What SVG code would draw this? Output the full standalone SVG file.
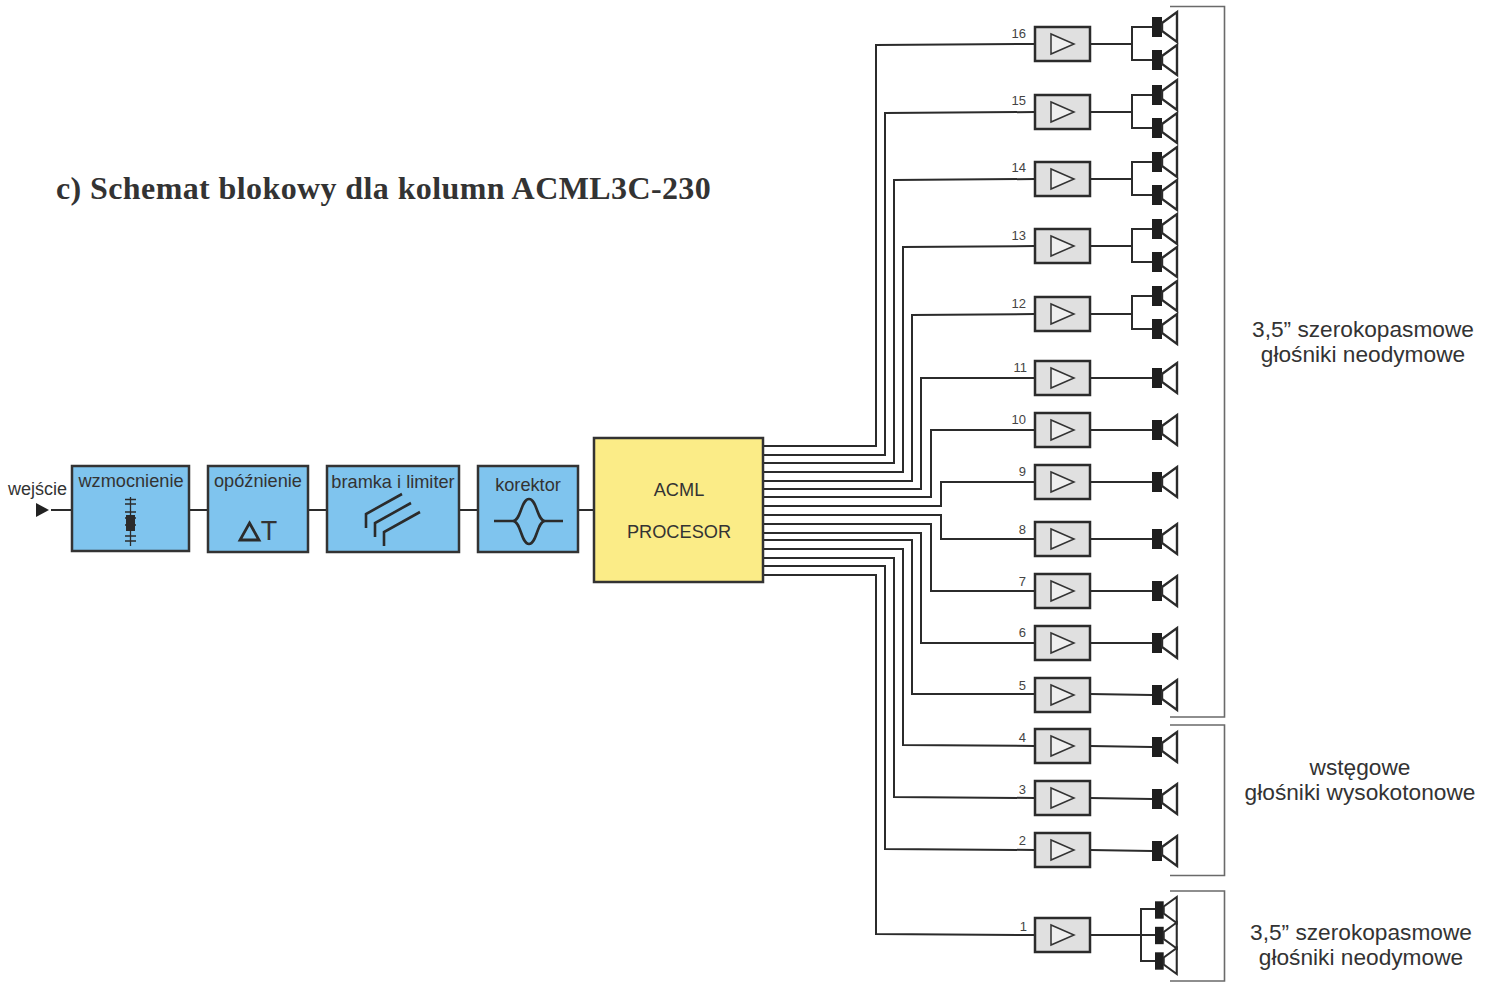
<svg xmlns="http://www.w3.org/2000/svg" width="1492" height="982" viewBox="0 0 1492 982">
<style>
text{font-family:"Liberation Sans",Arial,sans-serif;fill:#333}
.t{font-size:18.2px;text-anchor:middle}
.n{font-size:13px;text-anchor:end;fill:#444}
.r{font-size:22.7px;text-anchor:middle}
.b{fill:#7fc4ee;stroke:#333;stroke-width:2.5}
.w{fill:none;stroke:#2b2b2b;stroke-width:2;stroke-linejoin:miter}
.i{fill:none;stroke:#2b2b2b;stroke-width:2.6}
.a{fill:#e0e0e0;stroke:#2b2b2b;stroke-width:2.5}
.g{fill:none;stroke:#6a6a6a;stroke-width:1.6}
</style>
<defs>
<g id="amp"><rect class="a" x="0" y="-17" width="55" height="34"/><polygon points="16,-10 16,10 39,0" fill="#efefef" stroke="#333" stroke-width="1.500"/></g>
<g id="spk"><rect x="0" y="-10" width="10" height="20" fill="#1e1e1e"/><polygon points="10,-4 25,-15 25,15 10,4" fill="none" stroke="#2b2b2b" stroke-width="2.400"/></g>
</defs>
<rect width="1492" height="982" fill="#fff"/>
<text x="56" y="199" style="font-family:'Liberation Serif',serif;font-weight:bold;font-size:32px;letter-spacing:.4px">c) Schemat blokowy dla kolumn ACML3C-230</text>
<g id="connectors">
<path class="w" d="M51 510H72M189 510H208M308 510H327M459 510H478M578 510H594"/>
<path class="w" d="M763 446H876V45L1035 44"/>
<path class="w" d="M763 455H885V113L1035 112"/>
<path class="w" d="M763 463H894V180L1035 179"/>
<path class="w" d="M763 472H903V247L1035 246"/>
<path class="w" d="M763 481H912V315L1035 314"/>
<path class="w" d="M763 489H921V378H1035"/>
<path class="w" d="M763 497H931V430H1035"/>
<path class="w" d="M763 506H941V482H1035"/>
<path class="w" d="M763 515H941V539H1035"/>
<path class="w" d="M763 524H931V591H1035"/>
<path class="w" d="M763 533H921V643H1035"/>
<path class="w" d="M763 540H912V694H1035"/>
<path class="w" d="M763 549H903V745L1035 746"/>
<path class="w" d="M763 558H894V797L1035 798"/>
<path class="w" d="M763 566H885V849L1035 850"/>
<path class="w" d="M763 575H876V934L1035 935"/>
<path class="w" d="M1090 44H1132M1152 27H1132V60H1152"/>
<path class="w" d="M1090 112H1132M1152 95H1132V128H1152"/>
<path class="w" d="M1090 179H1132M1152 162H1132V195H1152"/>
<path class="w" d="M1090 246H1132M1152 229H1132V262H1152"/>
<path class="w" d="M1090 314H1132M1152 296H1132V329H1152"/>
<path class="w" d="M1090 378H1152M1090 430H1152M1090 482H1152M1090 539H1152M1090 591H1152M1090 643H1152M1090 694L1152 695M1090 746L1152 747M1090 798L1152 799M1090 850L1152 851"/>
<path class="w" d="M1090 935H1155M1155 909H1141V961H1155"/>
</g>
<g id="input"><polygon points="36,503 36,517 49,510" fill="#222"/><text class="t" x="37.500" y="495" style="font-size:18px">wejście</text></g>
<g id="wzmocnienie"><rect class="b" x="72" y="466" width="117" height="85"/><text class="t" x="131" y="487">wzmocnienie</text>
<path d="M130.500 497V546M125 499.500H136M125 504H136M125 512H136M125 518H136M125 525H136M125 536H136M125 541H136" fill="none" stroke="#2b2b2b" stroke-width="1.300"/><rect x="126" y="515" width="9" height="16" fill="#2b2b2b"/></g>
<g id="opoznienie"><rect class="b" x="208" y="466" width="100" height="86"/><text class="t" x="258" y="487">opóźnienie</text>
<polygon points="249.500,523 259,540 240,540" fill="none" stroke="#2b2b2b" stroke-width="2.800"/><text x="269" y="540" style="font-size:27px;text-anchor:middle">T</text></g>
<g id="bramka"><rect class="b" x="327" y="466" width="132" height="86"/><text class="t" x="393" y="488">bramka i limiter</text>
<path class="i" d="M366 528V514L402 494M375 537V523L411 503M384 546V532L420 512"/></g>
<g id="korektor"><rect class="b" x="478" y="466" width="100" height="86"/><text class="t" x="528" y="491">korektor</text>
<path class="i" d="M494 521H513C521 521 521 499 529 499C537 499 537 521 545 521H563M513 521C521 521 521 544 529 544C537 544 537 521 545 521"/></g>
<g id="procesor"><rect x="594" y="438" width="169" height="144" fill="#fbec87" stroke="#333" stroke-width="2.500"/><text class="t" x="679" y="496">ACML</text><text class="t" x="679" y="538">PROCESOR</text></g>
<g id="amp-16"><use href="#amp" x="1035" y="44"/><text class="n" x="1026" y="38">16</text></g>
<g id="amp-15"><use href="#amp" x="1035" y="112"/><text class="n" x="1026" y="105">15</text></g>
<g id="amp-14"><use href="#amp" x="1035" y="179"/><text class="n" x="1026" y="172">14</text></g>
<g id="amp-13"><use href="#amp" x="1035" y="246"/><text class="n" x="1026" y="240">13</text></g>
<g id="amp-12"><use href="#amp" x="1035" y="314"/><text class="n" x="1026" y="308">12</text></g>
<g id="amp-11"><use href="#amp" x="1035" y="378"/><text class="n" x="1027" y="372">11</text></g>
<g id="amp-10"><use href="#amp" x="1035" y="430"/><text class="n" x="1026" y="424">10</text></g>
<g id="amp-9"><use href="#amp" x="1035" y="482"/><text class="n" x="1026" y="476">9</text></g>
<g id="amp-8"><use href="#amp" x="1035" y="539"/><text class="n" x="1026" y="534">8</text></g>
<g id="amp-7"><use href="#amp" x="1035" y="591"/><text class="n" x="1026" y="586">7</text></g>
<g id="amp-6"><use href="#amp" x="1035" y="643"/><text class="n" x="1026" y="637">6</text></g>
<g id="amp-5"><use href="#amp" x="1035" y="695"/><text class="n" x="1026" y="690">5</text></g>
<g id="amp-4"><use href="#amp" x="1035" y="746"/><text class="n" x="1026" y="742">4</text></g>
<g id="amp-3"><use href="#amp" x="1035" y="798"/><text class="n" x="1026" y="794">3</text></g>
<g id="amp-2"><use href="#amp" x="1035" y="850"/><text class="n" x="1026" y="845">2</text></g>
<g id="amp-1"><use href="#amp" x="1035" y="935"/><text class="n" x="1027" y="931">1</text></g>
<g id="speakers">
<use href="#spk" x="1152" y="27"/><use href="#spk" x="1152" y="60"/><use href="#spk" x="1152" y="95"/><use href="#spk" x="1152" y="128"/><use href="#spk" x="1152" y="162"/><use href="#spk" x="1152" y="195"/><use href="#spk" x="1152" y="229"/><use href="#spk" x="1152" y="262"/><use href="#spk" x="1152" y="296"/><use href="#spk" x="1152" y="329"/>
<use href="#spk" x="1152" y="378"/><use href="#spk" x="1152" y="430"/><use href="#spk" x="1152" y="482"/><use href="#spk" x="1152" y="539"/><use href="#spk" x="1152" y="591"/><use href="#spk" x="1152" y="643"/><use href="#spk" x="1152" y="695"/><use href="#spk" x="1152" y="747"/><use href="#spk" x="1152" y="799"/><use href="#spk" x="1152" y="851"/>
<use href="#spk" transform="translate(1155 910) scale(.87)"/><use href="#spk" transform="translate(1155 935.500) scale(.87)"/><use href="#spk" transform="translate(1155 961) scale(.87)"/>
</g>
<g id="brackets">
<path class="g" d="M1170 6.500H1224.500V717H1170"/>
<path class="g" d="M1170 725H1224.500V875.500H1170"/>
<path class="g" d="M1170 891H1224.500V981H1170"/>
</g>
<g id="labels">
<text class="r" x="1363" y="337">3,5” szerokopasmowe</text><text class="r" x="1363" y="362">głośniki neodymowe</text>
<text class="r" x="1360" y="775">wstęgowe</text><text class="r" x="1360" y="800">głośniki wysokotonowe</text>
<text class="r" x="1361" y="940">3,5” szerokopasmowe</text><text class="r" x="1361" y="965">głośniki neodymowe</text>
</g>
</svg>
